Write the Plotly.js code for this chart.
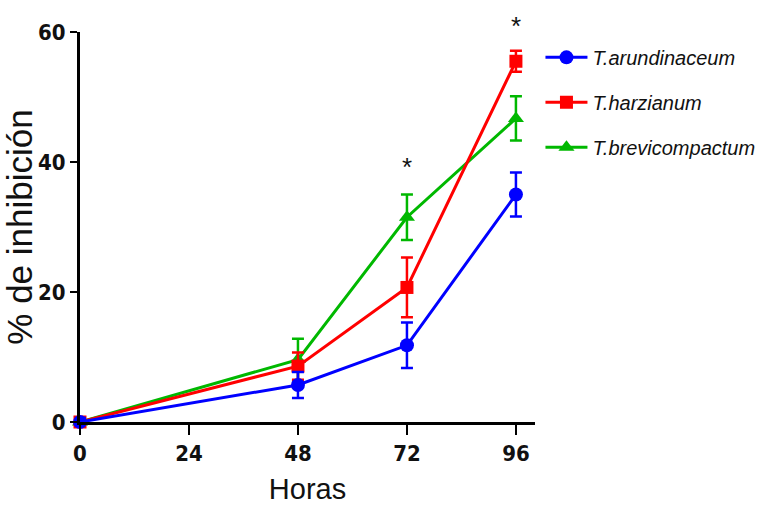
<!DOCTYPE html>
<html>
<head>
<meta charset="utf-8">
<script src="https://cdn.plot.ly/plotly-3.0.1.min.js"></script>
<style>html,body{margin:0;padding:0;background:#fff;}#chart{width:760px;height:510px;}</style>
</head>
<body>
<div id="chart"></div>
<script>
const hours = [0, 48, 72, 96];
const seriesNames = ["T.arundinaceum", "T.harzianum", "T.brevicompactum"];
const arundinaceum = [0, 5.7, 11.8, 35.0];
const arundinaceumErr = [0.6, 2.0, 3.5, 3.4];
const harzianum = [0, 8.6, 20.7, 55.5];
const harzianumErr = [0.6, 2.1, 4.6, 1.6];
const brevicompactum = [0, 9.6, 31.5, 46.7];
const brevicompactumErr = [0.4, 3.2, 3.5, 3.4];
const starX = [72, 96];
const starY = [39.2, 61.0];
const xTicks = [0, 24, 48, 72, 96];
const yTicks = [0, 20, 40, 60];
const yMax = 60;

const narrow = "DejaVu Sans Condensed, Liberation Sans Narrow, Arial Narrow, sans-serif";
const sans = "Liberation Sans, Arial, sans-serif";

function mk(name, y, err, color, symbol, size, rank) {
  return {
    type: "scatter", mode: "lines+markers", name: name,
    x: hours, y: y,
    error_y: {type: "data", array: err, visible: true, color: color, thickness: 2.5, width: 6},
    line: {color: color, width: 3},
    marker: {color: color, symbol: symbol, size: size},
    legendgroup: name, legendrank: rank, cliponaxis: false
  };
}

const traces = [
  mk(seriesNames[2], brevicompactum, brevicompactumErr, "#00b800", "triangle-up", 14, 3),
  mk(seriesNames[1], harzianum, harzianumErr, "#ff0000", "square", 13, 2),
  mk(seriesNames[0], arundinaceum, arundinaceumErr, "#0000ff", "circle", 14, 1)
];

const layout = {
  width: 760, height: 510,
  margin: {l: 80, r: 225, t: 32, b: 88, pad: 0, autoexpand: false},
  paper_bgcolor: "#fff", plot_bgcolor: "#fff",
  showlegend: true,
  legend: {
    x: 1.012, xanchor: "left", y: 0.985, yanchor: "top",
    font: {family: sans, size: 20, color: "#111", style: "italic"},
    tracegroupgap: 16, bgcolor: "rgba(0,0,0,0)", itemwidth: 42
  },
  xaxis: {
    range: [0, 100.2], tickvals: xTicks, ticktext: xTicks.map(String),
    showline: true, linecolor: "#000", linewidth: 3,
    ticks: "outside", ticklen: 10, tickwidth: 2.5, tickcolor: "#000",
    showgrid: false, zeroline: false,
    tickfont: {family: narrow, size: 22, color: "#111", weight: "bold"},
    title: {text: "Horas", font: {family: sans, size: 29, color: "#111"}, standoff: 14},
    automargin: false
  },
  yaxis: {
    range: [0, yMax], tickvals: yTicks, ticktext: yTicks.map(String),
    showline: true, linecolor: "#000", linewidth: 3,
    ticks: "outside", ticklen: 7, tickwidth: 2.5, tickcolor: "#000",
    showgrid: false, zeroline: false,
    tickfont: {family: narrow, size: 22, color: "#111", weight: "bold"},
    title: {text: "% de inhibición", font: {family: sans, size: 35, color: "#111"}, standoff: 4},
    automargin: true
  },
  annotations: starX.map((x, i) => ({
    x: x, y: starY[i] / yMax, xref: "x", yref: "y domain", yanchor: "middle", text: "*", showarrow: false,
    font: {family: sans, size: 26, color: "#111"}
  }))
};

Plotly.newPlot("chart", traces, layout, {displayModeBar: false, staticPlot: true});
</script>
</body>
</html>
